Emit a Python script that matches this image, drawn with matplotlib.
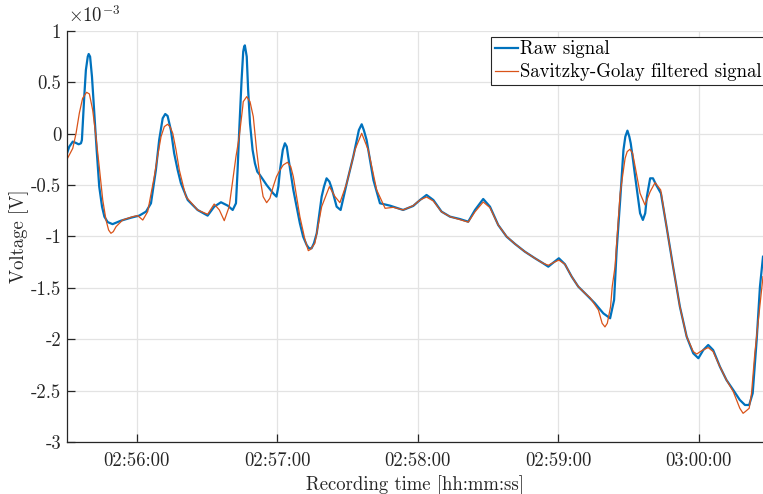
import numpy as np
import matplotlib
matplotlib.use("Agg")
import matplotlib.pyplot as plt

plt.rcParams['font.family'] = 'cmr10'
plt.rcParams['mathtext.fontset'] = 'cm'
plt.rcParams['axes.unicode_minus'] = False

# Zeit in Sekunden nach 02:55:00, Spannung in mV (Achse in V mit x10^-3)
t_raw = [30.0, 31.1, 32.6, 34.0, 35.1, 36.1, 36.5, 37.5, 38.2, 39.0, 39.4, 40.0,
         40.8, 41.8, 42.8, 43.9, 45.1, 46.1, 47.5, 49.6,
         53.2, 57.5, 61.0, 63.9, 66.0, 68.1, 69.5, 71.0, 72.1, 73.1, 74.5, 75.9,
         77.4, 78.8, 81.7,
         85.9, 90.2, 93.0, 95.9, 98.8, 100.9, 102.3, 103.0, 103.7, 104.7, 105.4,
         105.8, 106.1, 106.9, 107.5, 108.3, 109.4,
         110.4, 111.4, 112.5, 115.4, 118.2, 119.6, 120.4, 121.1, 122.3, 123.2,
         124.0, 124.6, 125.7, 126.8, 129.6, 131.0,
         132.5, 133.5, 134.6, 135.6, 136.8, 138.9, 139.9, 141.0, 142.2, 143.2,
         145.3, 147.0, 149.6, 152.4,
         153.9, 154.8, 156.0, 156.9, 158.1, 161.0, 163.8, 168.1, 173.7, 178.0,
         180.9, 183.7,
         186.6, 190.1, 193.7, 197.9, 201.5, 204.4, 207.9, 210.8, 214.3, 217.9,
         221.5, 225.7, 230.0, 233.5, 235.7, 237.8, 240.2, 242.8, 245.7, 248.5,
         252.1, 255.6, 259.2, 262.1, 263.8, 264.9, 266.4, 267.8, 268.6, 269.5,
         270.3, 270.9, 271.7,
         272.8, 274.9, 276.1, 277.1, 277.8, 279.2, 280.4, 281.8, 283.8, 286.2,
         289.0, 291.9,
         294.8, 297.6, 299.8, 301.9, 304.0, 306.1, 309.0, 311.8, 314.7, 317.5,
         319.7, 321.5, 323.0, 324.7, 326.1, 327.4]
v_raw = [-0.20, -0.126, -0.077, -0.09, -0.103, -0.093, -0.061, 0.36, 0.62,
         0.75, 0.776, 0.75, 0.555, 0.20, -0.158, -0.515, -0.71, -0.807, -0.86,
         -0.88, -0.846, -0.817, -0.797, -0.758, -0.677, -0.353, -0.061, 0.15,
         0.192, 0.173, 0.036, -0.19, -0.353, -0.483, -0.645, -0.742, -0.797,
         -0.71, -0.667, -0.70, -0.742, -0.677, -0.353, 0.036, 0.523, 0.80,
         0.847, 0.86, 0.75, 0.426, 0.10, -0.158, -0.288, -0.369, -0.401,
         -0.499, -0.58, -0.612, -0.515, -0.353, -0.158, -0.093, -0.126, -0.223,
         -0.385, -0.547, -0.872, -1.002, -1.083, -1.115, -1.115, -1.066,
         -0.969, -0.612, -0.515, -0.434, -0.466, -0.531, -0.71, -0.742, -0.483,
         -0.223, -0.061, 0.036, 0.092, 0.036, -0.061, -0.45, -0.677, -0.70,
         -0.742, -0.703, -0.645, -0.596, -0.645, -0.758, -0.807, -0.83, -0.856,
         -0.742, -0.635, -0.71, -0.888, -1.002, -1.073, -1.148, -1.212, -1.261,
         -1.294, -1.255, -1.212, -1.27, -1.391, -1.488, -1.569, -1.65, -1.748,
         -1.796, -1.618, -1.131, -0.645, -0.158, -0.028, 0.03, -0.028, -0.093,
         -0.223, -0.418, -0.774, -0.839, -0.774, -0.612, -0.434, -0.434,
         -0.499, -0.58, -0.904, -1.294, -1.683, -1.975, -2.137, -2.185, -2.105,
         -2.056, -2.105, -2.267, -2.397, -2.494, -2.591, -2.64, -2.64, -2.526,
         -2.007, -1.488, -1.197]

t_sg = [30.0, 32.6, 34.0, 35.4, 36.8, 38.5, 39.7, 41.1, 42.5, 43.9, 45.4, 46.8,
        47.9, 48.9, 49.9, 51.1, 53.9, 58.2,
        60.3, 62.5, 64.6, 67.4, 68.8, 70.3, 71.7, 73.1, 74.1, 75.3, 76.7, 78.1,
        80.9, 85.9, 90.2, 93.0,
        95.2, 97.3, 99.4, 102.3, 103.7, 105.2, 105.4, 106.9, 108.3, 109.7, 111.1,
        112.5, 113.9, 115.4, 116.8, 118.2, 119.6,
        121.1, 122.5, 124.3, 125.7, 126.8, 129.6, 131.8, 133.2, 134.2, 136.0,
        138.9, 142.2, 144.6, 146.7,
        149.6, 153.1, 156.0, 158.8, 162.4, 166.0, 169.5, 173.7, 178.0, 180.9,
        183.7, 186.6, 190.1, 193.7, 197.9, 201.5, 204.4, 207.9, 210.8, 214.3,
        217.9, 221.5, 225.7, 230.0, 233.5, 235.7, 237.8, 240.2, 242.8, 245.7,
        248.5, 252.1, 253.5, 257.1, 258.7, 259.9, 260.9, 262.3, 263.0, 264.2,
        266.4, 268.5, 269.4, 270.6, 271.7,
        272.8, 274.9, 277.0, 279.2, 281.3, 283.7, 286.2, 289.0, 291.9, 294.8,
        297.6, 299.1, 301.3, 304.0, 306.1, 309.0, 311.8, 314.7, 317.5, 318.9,
        319.8, 321.5, 322.5, 323.9, 327.4]
v_sg = [-0.255, -0.142, 0.004, 0.20, 0.345, 0.403, 0.387, 0.231, -0.028,
        -0.32, -0.645, -0.84, -0.937, -0.969, -0.953, -0.904, -0.84, -0.807,
        -0.797, -0.84, -0.758, -0.418, -0.223, -0.028, 0.069, 0.092, 0.069,
        0.004, -0.158, -0.353, -0.612, -0.742, -0.784, -0.684, -0.742, -0.846,
        -0.71, -0.223, -0.028, 0.263, 0.312, 0.361, 0.312, 0.166, -0.158,
        -0.418, -0.612, -0.671, -0.628, -0.515, -0.418, -0.353, -0.304, -0.278,
        -0.32, -0.418, -0.807, -1.034, -1.138, -1.125, -1.066, -0.71, -0.515,
        -0.612, -0.671, -0.483, -0.158, 0.004, -0.158, -0.547, -0.726, -0.716,
        -0.742, -0.70, -0.645, -0.616, -0.655, -0.76, -0.807, -0.835, -0.86,
        -0.76, -0.664, -0.72, -0.888, -1.0, -1.073, -1.148, -1.212, -1.261,
        -1.28, -1.255, -1.23, -1.27, -1.391, -1.488, -1.569, -1.595, -1.715,
        -1.845, -1.88, -1.845, -1.683, -1.488, -1.294, -0.58, -0.239, -0.174,
        -0.151, -0.19, -0.321, -0.58, -0.693, -0.564, -0.476, -0.547, -0.904,
        -1.294, -1.683, -1.975, -2.12, -2.144, -2.11, -2.081, -2.12, -2.267,
        -2.397, -2.51, -2.672, -2.721, -2.705, -2.672, -2.526, -2.137, -1.391]

x_ticks = [60, 120, 180, 240, 300]
x_ticklabels = ['02:56:00', '02:57:00', '02:58:00', '02:59:00', '03:00:00']
y_ticks = [1, 0.5, 0, -0.5, -1, -1.5, -2, -2.5, -3]

fig = plt.figure(figsize=(7.63, 4.94), dpi=100)
ax = fig.add_axes([0.0874, 0.1053, 0.9126, 0.832])

ax.plot(t_raw, np.array(v_raw) * 1e-3, color='#0072BD', lw=1.6,
        label='Raw signal')
ax.plot(t_sg, np.array(v_sg) * 1e-3, color='#D95319', lw=0.9,
        label='Savitzky-Golay filtered signal')

ax.set_xlim(30, 327.4)
ax.set_ylim(-3e-3, 1e-3)
ax.set_xticks(x_ticks)
ax.set_xticklabels(x_ticklabels)
ax.set_yticks(np.array(y_ticks) * 1e-3)
ax.set_yticklabels([f'{v:g}' for v in y_ticks])
ax.text(0.002, 1.012, r'$\times10^{-3}$', transform=ax.transAxes,
        fontsize=13.5, color='#262626', va='bottom', ha='left')

ax.grid(True, color='#e3e3e3', lw=0.9)
ax.set_axisbelow(True)
for s in ['top', 'right']:
    ax.spines[s].set_visible(False)
for s in ['left', 'bottom']:
    ax.spines[s].set_color('#262626')
    ax.spines[s].set_linewidth(0.9)
ax.tick_params(direction='in', length=6, width=0.9, color='#262626',
               labelsize=13.5, labelcolor='#262626')
ax.tick_params(axis='x', pad=7)
ax.tick_params(axis='y', pad=4)

ax.set_xlabel('Recording time [hh:mm:ss]', fontsize=13.5, color='#262626')
ax.set_ylabel('Voltage [V]', fontsize=13.5, color='#262626', labelpad=1)

leg = ax.legend(loc='upper right', bbox_to_anchor=(1.004, 0.986),
                fontsize=13.5, fancybox=False, framealpha=1,
                edgecolor='#262626', handlelength=1.2, handletextpad=0.15,
                borderpad=0.2, labelspacing=0.25, borderaxespad=0)
leg.get_frame().set_linewidth(0.8)

fig.savefig('out.png', dpi=100)
